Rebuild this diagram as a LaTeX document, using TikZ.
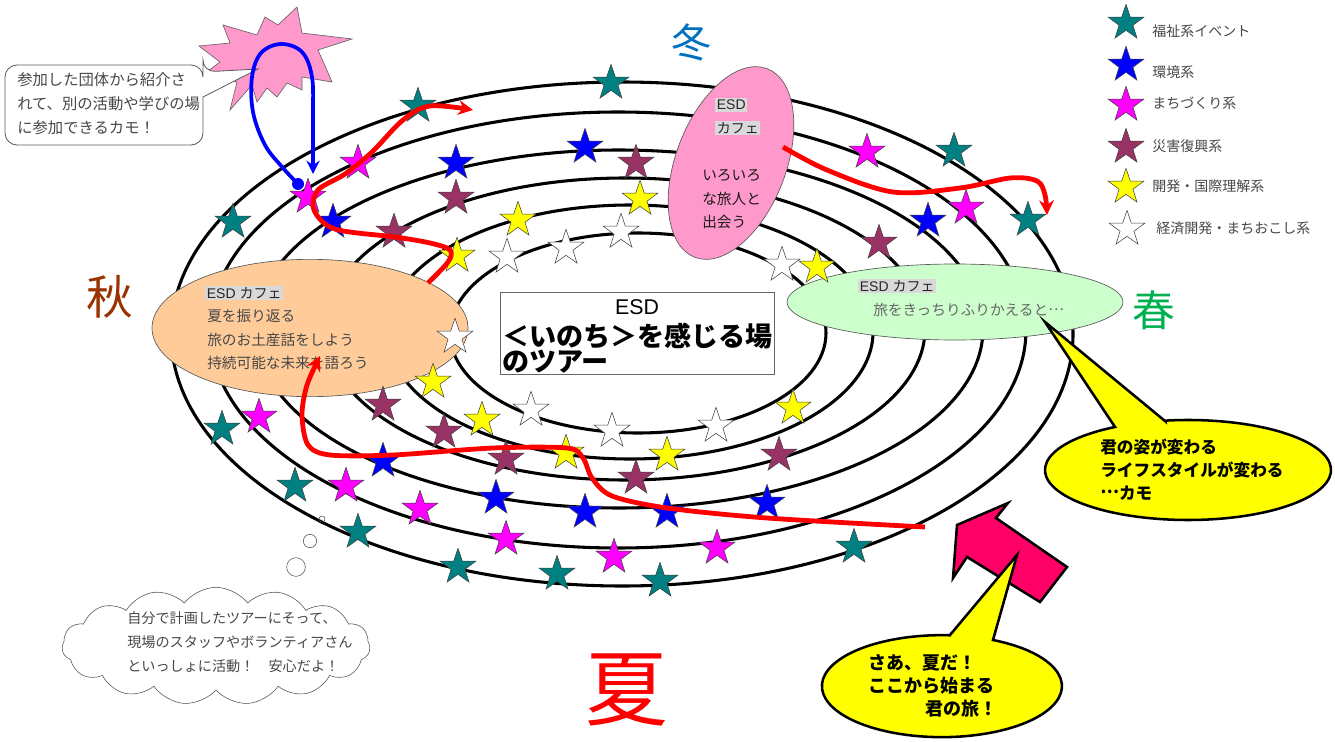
\documentclass[tikz,border=0pt]{standalone}
\usepackage{fontspec}
\setmainfont{Liberation Sans}
\newfontfamily\jp{Noto Sans CJK JP}
\usetikzlibrary{shapes.geometric,shapes.symbols,arrows.meta}
\definecolor{cteal}{RGB}{0,128,128}
\definecolor{cblue}{RGB}{0,0,255}
\definecolor{cmag}{RGB}{255,0,255}
\definecolor{cmar}{RGB}{153,51,102}
\definecolor{cyel}{RGB}{255,255,0}
\definecolor{corange}{RGB}{255,204,153}
\definecolor{cgreen}{RGB}{204,255,204}
\definecolor{cpink}{RGB}{255,153,204}
\definecolor{carrow}{RGB}{255,0,102}
\definecolor{cwinter}{RGB}{0,112,192}
\definecolor{cautumn}{RGB}{153,51,0}
\definecolor{cspring}{RGB}{0,176,80}
\definecolor{csummer}{RGB}{255,0,0}
\definecolor{chl}{RGB}{217,217,217}
\newcommand\mystar[4]{\node[st,fill=#1] (#2) at (#3,#4) {};}
\newcommand\jpdots{\raisebox{0.32em}{…}}
\begin{document}
\begin{tikzpicture}[x=0.75pt,y=-0.75pt,
  ring/.style={draw=black,line width=2.3pt},
  st/.style={star,star points=5,star point ratio=2.55,minimum size=28pt,inner sep=0pt,draw=black!75,line width=0.4pt},
  cafe/.style={ellipse,draw=black!65,line width=0.5pt,inner sep=0pt},
  txt/.style={inner sep=0pt,anchor=west,font=\jp\fontsize{11}{13}\selectfont,text=black!72},
  hl/.style={inner sep=1.2pt,anchor=west,fill=chl,font=\fontsize{10.5}{12}\selectfont,text=black!85},
  bold/.style={inner sep=0pt,anchor=west,font=\jp\bfseries\fontsize{12.5}{14}\selectfont,text=black},
  season/.style={inner sep=0pt,anchor=center},
  redpath/.style={draw=red,line width=3.6pt,-{Stealth[length=11pt,width=11pt]}},
  bluepath/.style={draw=blue,line width=2.8pt,-{Stealth[length=10pt,width=10pt]}},
  callout/.style={fill=cyel,draw=black,line width=1.9pt},
  leg/.style={inner sep=0pt,anchor=west,font=\jp\fontsize{10.5}{12}\selectfont,text=black!72}]
\useasboundingbox (0,0) rectangle (1335,742);
% rings
\draw[ring] (622,334) ellipse [x radius=338.25pt, y radius=189pt];
\draw[ring] (618,330) ellipse [x radius=306pt, y radius=163.5pt];
\draw[ring] (619,329) ellipse [x radius=273pt, y radius=134.25pt];
\draw[ring] (625,329) ellipse [x radius=225pt, y radius=113.25pt];
\draw[ring] (630,332) ellipse [x radius=182.25pt, y radius=95.25pt];
\draw[ring] (638,333) ellipse [x radius=141pt, y radius=75pt];
% center box
\node[draw=black!60,line width=0.8pt,fill=white,minimum width=206pt,minimum height=62pt,inner sep=0pt] (box) at (637.5,333.5) {};
\node[inner sep=0pt,font=\fontsize{16}{16}\selectfont] (tesd) at (637,307) {ESD};
\node[inner sep=0pt,anchor=west,font=\jp\bfseries\fontsize{20.3}{20}\selectfont] (tl1) at (502,336) {＜いのち＞を感じる場};
\node[inner sep=0pt,anchor=west,font=\jp\bfseries\fontsize{20.3}{20}\selectfont] (tl2) at (502,362) {のツアー};
% cafes
\node[cafe,fill=corange,minimum width=237pt,minimum height=103pt] (autumn) at (310,328) {};
\node[cafe,fill=cgreen,minimum width=252pt,minimum height=57pt] (spring) at (955,302) {};
\node[cafe,fill=cpink,minimum width=82.5pt,minimum height=151.5pt,rotate=-21] (winter) at (731,163) {};
% cafe texts
\node[hl] (ha) at (205,293) {ESD {\jp カフェ}};
\node[txt] (a1) at (207,316) {夏を振り返る};
\node[txt] (a2) at (207,340) {旅のお土産話をしよう};
\node[txt] (a3) at (207,363) {持続可能な未来を語ろう};
\node[hl] (hs) at (858,286) {ESD {\jp カフェ}};
\node[txt,text=black!60] (s1) at (873,310) {旅をきっちりふりかえると\jpdots};
\node[hl] (hw1) at (715,105) {ESD};
\node[hl,font=\jp\fontsize{10.5}{12}\selectfont] (hw2) at (715,128) {カフェ};
\node[txt,text=black!90] (w1) at (702,176) {いろいろ};
\node[txt,text=black!90] (w2) at (702,199) {な旅人と};
\node[txt,text=black!90] (w3) at (702,222) {出会う};
% stars
\mystar{cteal}{t1}{418}{106}\mystar{cteal}{t2}{611}{83}\mystar{cteal}{t3}{233}{222}
\mystar{cteal}{t4}{954}{151}\mystar{cteal}{t5}{1028}{220}\mystar{cteal}{t6}{222}{429}
\mystar{cteal}{t7}{295}{486}\mystar{cteal}{t8}{358}{532}\mystar{cteal}{t9}{458}{567}
\mystar{cteal}{t10}{557}{574}\mystar{cteal}{t11}{660}{581}\mystar{cteal}{t12}{854}{547}
\mystar{cblue}{b1}{456}{163}\mystar{cblue}{b2}{585}{147}\mystar{cblue}{b3}{333}{222}
\mystar{cblue}{b4}{928}{221}\mystar{cblue}{b5}{383}{461}\mystar{cblue}{b6}{496}{498}
\mystar{cblue}{b7}{585}{512}\mystar{cblue}{b8}{667}{512}\mystar{cblue}{b9}{767}{503}
\mystar{cmag}{m1}{358}{163}\mystar{cmag}{m2}{308}{197}\mystar{cmag}{m3}{867}{152}
\mystar{cmag}{m4}{966}{208}\mystar{cmag}{m5}{259}{417}\mystar{cmag}{m6}{346}{486}
\mystar{cmag}{m7}{420}{509}\mystar{cmag}{m8}{506}{539}\mystar{cmag}{m9}{614}{557}
\mystar{cmag}{m10}{717}{548}
\mystar{cmar}{r1}{636}{163}\mystar{cmar}{r2}{456}{198}\mystar{cmar}{r3}{394}{232}
\mystar{cmar}{r4}{879}{243}\mystar{cmar}{r5}{383}{405}\mystar{cmar}{r6}{444}{432}
\mystar{cmar}{r7}{506}{459}\mystar{cmar}{r8}{636}{478}\mystar{cmar}{r9}{779}{455}
\mystar{cyel}{y1}{640}{199}\mystar{cyel}{y2}{518}{220}\mystar{cyel}{y3}{457}{256}
\mystar{cyel}{y4}{817}{267}\mystar{cyel}{y5}{433}{382}\mystar{cyel}{y6}{482}{420}
\mystar{cyel}{y7}{566}{453}\mystar{cyel}{y8}{667}{455}\mystar{cyel}{y9}{793}{408}
\mystar{white}{w1s}{507}{257}\mystar{white}{w2s}{566}{248}\mystar{white}{w3s}{621}{232}
\mystar{white}{w4s}{782}{265}\mystar{white}{w5s}{455}{337}\mystar{white}{w6s}{531}{410}
\mystar{white}{w7s}{612}{431}\mystar{white}{w8s}{716}{426}
% red paths
\coordinate (r1a) at (428,283);
\draw[redpath] plot[smooth,tension=0.55] coordinates {(r1a) (448,262) (450,250) (430,243) (395,237) (335,229) (314,210) (318,190) (345,174) (372,152) (403,120) (430,106) (473,110)};
\coordinate (r2a) at (783,147);
\draw[redpath] plot[smooth,tension=0.55] coordinates {(r2a) (827,170) (893,192) (960,188) (1010,178) (1037,181) (1045,195) (1047,215)};
\coordinate (r3a) at (925,527);
\draw[redpath] plot[smooth,tension=0.5] coordinates {(r3a) (767,518) (667,508) (612,496) (592,478) (583,458) (567,448) (493,448) (393,455) (330,455) (308,445) (302,415) (307,385) (320,356)};
% starburst and top-left callout
\filldraw[fill=cpink,draw=black!60,line width=0.5pt] (199,46) -- (230,43) -- (223,25) -- (257,35) -- (265,17) -- (278,25) -- (297,7) -- (302,33) -- (352,39) -- (318,50) -- (332,82) -- (302,77) -- (302,90) -- (287,83) -- (277,97) -- (267,88) -- (257,102) -- (252,85) -- (230,110) -- (237,82) -- (200,77) -- (220,62) -- cycle;
\draw[fill=white,draw=black!65,line width=0.6pt,rounded corners=9pt] (5,105) -- (5,65) -- (203,65) -- (203,72) [sharp corners] -- (258,69) -- (203,97) [rounded corners=9pt] -- (203,145) -- (5,145) -- cycle;
\node[txt,font=\jp\fontsize{11.5}{13}\selectfont] (c1) at (17,80) {参加した団体から紹介さ};
\node[txt,font=\jp\fontsize{11.5}{13}\selectfont] (c2) at (17,104) {れて、別の活動や学びの場};
\node[txt,font=\jp\fontsize{11.5}{13}\selectfont] (c3) at (17,128) {に参加できるカモ！};
% blue loop
\node[circle,fill=blue,minimum size=9pt,inner sep=0pt] (bdot) at (298,184) {};
\draw[bluepath] plot[smooth,tension=0.6] coordinates {(bdot.center) (283,168) (265,145) (253,112) (252,77) (261,53) (281,44) (302,52) (312,77) (313,117) (313,174)};
% cloud
\node[cloud,draw=black!70,fill=white,cloud puffs=15,cloud puff arc=105,aspect=2.7,minimum width=231pt,minimum height=88pt,inner sep=0pt] (cloud) at (216,646) {};
\node[circle,draw=black!70,minimum size=4.5pt,inner sep=0pt] (tb1) at (322,519) {};
\node[circle,draw=black!70,minimum size=10pt,inner sep=0pt] (tb2) at (310,541) {};
\node[circle,draw=black!70,minimum size=14pt,inner sep=0pt] (tb3) at (296,567) {};
\node[txt,font=\jp\fontsize{10.6}{12}\selectfont] (k1) at (127,618) {自分で計画したツアーにそって、};
\node[txt,font=\jp\fontsize{10.6}{12}\selectfont] (k2) at (127,642) {現場のスタッフやボランティアさん};
\node[txt,font=\jp\fontsize{10.6}{12}\selectfont] (k3) at (127,666) {といっしょに活動！　安心だよ！};
% yellow callouts
\draw[callout] (1165,421) -- (1045,322) -- (1115,427) arc[start angle=120.7,end angle=459.3,x radius=107.25pt,y radius=37.5pt] -- cycle;
\node[bold] (y1t) at (1100,447) {君の姿が変わる};
\node[bold] (y2t) at (1100,470) {ライフスタイルが変わる};
\node[bold] (y3t) at (1100,493) {\jpdots{}カモ};
\draw[fill=carrow,draw=black,line width=1.9pt,line join=miter] (957,525) -- (1008,503) -- (996,518) -- (1067,567) -- (1040,602) -- (967,557) -- (953,578) -- cycle;
\draw[callout] (950,635) -- (1017,555) -- (993,640) arc[start angle=64.8,end angle=-273.8,x radius=90pt,y radius=38.25pt] -- cycle;
\node[bold,font=\jp\bfseries\fontsize{13.5}{15}\selectfont] (z1) at (868,663) {さあ、夏だ！};
\node[bold,font=\jp\bfseries\fontsize{13.5}{15}\selectfont] (z2) at (868,686) {ここから始まる};
\node[bold,font=\jp\bfseries\fontsize{13.5}{15}\selectfont] (z3) at (925,709) {君の旅！};
% seasons
\node[season,text=cwinter,font=\jp\fontsize{30}{30}\selectfont] (sw) at (691,42) {冬};
\node[season,text=cautumn,font=\jp\fontsize{35}{35}\selectfont] (sa) at (110,297) {秋};
\node[season,text=cspring,font=\jp\fontsize{32}{32}\selectfont] (ss) at (1154,310) {春};
\node[season,text=csummer,font=\jp\fontsize{62}{62}\selectfont] (su) at (627,690) {夏};
% legend
\mystar{cteal}{l1}{1126}{23}\mystar{cblue}{l2}{1126}{65}\mystar{cmag}{l3}{1126}{105}
\mystar{cmar}{l4}{1126}{147}\mystar{cyel}{l5}{1126}{187}\mystar{white}{l6}{1127}{229}
\node[leg] (g1) at (1152,31) {福祉系イベント};
\node[leg] (g2) at (1152,72) {環境系};
\node[leg] (g3) at (1152,103) {まちづくり系};
\node[leg] (g4) at (1152,146) {災害復興系};
\node[leg] (g5) at (1152,186) {開発・国際理解系};
\node[leg] (g6) at (1156,228) {経済開発・まちおこし系};
\end{tikzpicture}
\end{document}
